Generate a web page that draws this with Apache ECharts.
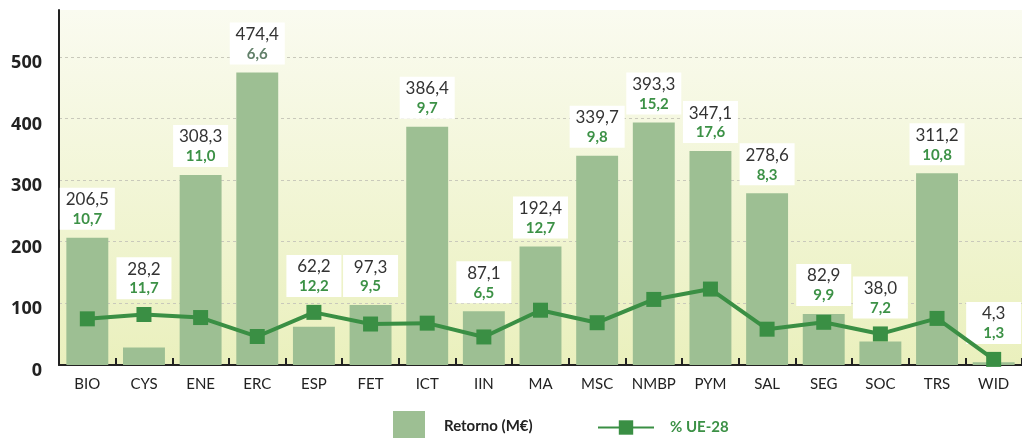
<!DOCTYPE html>
<html>
<head>
<meta charset="utf-8">
<script src="https://cdn.jsdelivr.net/npm/echarts@6/dist/echarts.min.js"></script>
<style>html,body{margin:0;padding:0;background:#fff}#c{width:1022px;height:438px}</style>
</head>
<body>
<div id="c"></div>
<script>
const categories = ['BIO','CYS','ENE','ERC','ESP','FET','ICT','IIN','MA','MSC','NMBP','PYM','SAL','SEG','SOC','TRS','WID'];
const retorno = [206.5,28.2,308.3,474.4,62.2,97.3,386.4,87.1,192.4,339.7,393.3,347.1,278.6,82.9,38.0,311.2,4.3];
const pctUE28 = [10.7,11.7,11.0,6.6,12.2,9.5,9.7,6.5,12.7,9.8,15.2,17.6,8.3,9.9,7.2,10.8,1.3];
const yTicks = [0,100,200,300,400,500];

const Y_MAX = 576, Y2_MAX = Y_MAX / 7;
const ratio = Y_MAX / Y2_MAX;
const fmt = v => v.toFixed(1).replace('.', ',');
const FONT = 'Lato';

const labelData = retorno.map((v, i) => {
  const anchor = Math.max(v, pctUE28[i] * ratio + 12);
  return {
    value: anchor,
    label: {
      formatter: '{a|' + fmt(v) + '}\n{' + (categories[i] === 'ERC' ? 'c' : 'b') + '|' + fmt(pctUE28[i]) + '}'
    }
  };
});

const chart = echarts.init(document.getElementById('c'));
chart.setOption({
  animation: false,
  textStyle: { fontFamily: FONT },
  grid: {
    left: 59, right: 0, top: 10, bottom: 73,
    show: true, borderWidth: 0,
    backgroundColor: {
      type: 'linear', x: 0, y: 0, x2: 0, y2: 1,
      colorStops: [{ offset: 0, color: '#fafbf0' }, { offset: 1, color: '#eaf0bd' }]
    }
  },
  legend: [
    {
      data: [{ name: 'Retorno (M€)', icon: 'rect' }],
      left: 388, top: 406, itemWidth: 32, itemHeight: 30, itemGap: 19,
      textStyle: { fontFamily: FONT, fontSize: 15, fontWeight: 'bold', color: '#222', padding: [0, 0, 0, 14] },
      selectedMode: false
    },
    {
      data: ['% UE-28'],
      left: 592, top: 415, itemWidth: 56, itemHeight: 18, itemGap: 10,
      textStyle: { fontFamily: FONT, fontSize: 15, fontWeight: 'bold', color: '#3c9146', padding: [0, 0, 0, 11] },
      selectedMode: false
    }
  ],
  xAxis: {
    type: 'category',
    data: categories,
    axisLine: { lineStyle: { color: '#222', width: 2 } },
    axisTick: { show: true, inside: true, interval: 0, length: 7, alignWithLabel: false, lineStyle: { color: '#222', width: 2 } },
    axisLabel: { interval: 0, fontFamily: FONT, fontSize: 15, color: '#222', margin: 12 }
  },
  yAxis: [
    {
      type: 'value', min: 0, max: Y_MAX, interval: 100,
      axisLine: { show: true, lineStyle: { color: '#222', width: 2 } },
      axisTick: { show: false },
      axisLabel: {
        fontFamily: 'Open Sans', fontSize: 18, fontWeight: 'bold', color: '#222', margin: 17,
        verticalAlign: 'top', lineHeight: 12,
        formatter: v => (yTicks.indexOf(v) >= 0 ? String(v) : '')
      },
      splitLine: {
        show: true,
        lineStyle: { color: ['#c9c9bb','#c9c9bb','#c9c9bb','#c9c9bb','#c9c9bb','#c9c9bb','rgba(0,0,0,0)'], type: [3, 3], width: 1 }
      }
    },
    {
      type: 'value', min: 0, max: Y2_MAX, show: false, splitLine: { show: false }
    }
  ],
  series: [
    {
      name: 'Retorno (M€)', type: 'bar', data: retorno, barWidth: '74%',
      itemStyle: { color: '#9dbf93' }, silent: true
    },
    {
      name: '% UE-28', type: 'line', yAxisIndex: 1, data: pctUE28,
      symbol: 'rect', symbolSize: 15,
      lineStyle: { color: '#3a8f44', width: 4 },
      itemStyle: { color: '#3a8f44' }, silent: true
    },
    {
      name: 'labels', type: 'scatter', data: labelData, symbolSize: 0, silent: true,
      itemStyle: { opacity: 1, color: 'rgba(0,0,0,0)' },
      label: {
        show: true, position: 'top', distance: 8, opacity: 1,
        backgroundColor: '#fff', width: 55, align: 'center', padding: [2, 0, 1, 0],
        rich: {
          a: { fontFamily: FONT, fontSize: 17, color: '#333', lineHeight: 20, align: 'center' },
          b: { fontFamily: FONT, fontSize: 15, fontWeight: 'bold', color: '#3c9146', lineHeight: 19, align: 'center' },
          c: { fontFamily: FONT, fontSize: 15, fontWeight: 'bold', color: '#62806a', lineHeight: 19, align: 'center' }
        }
      }
    }
  ]
});
</script>
</body>
</html>
